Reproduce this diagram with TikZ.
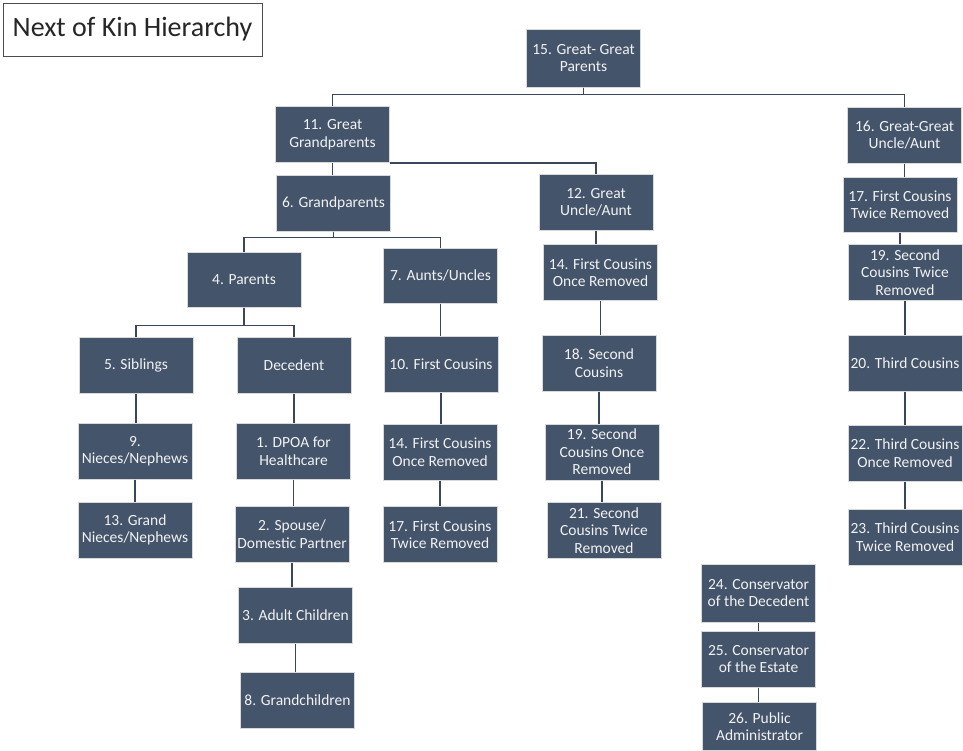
\documentclass[tikz,border=0pt]{standalone}
\usepackage{fontspec}
\setmainfont{Carlito}
\definecolor{kinfill}{HTML}{44546A}
\definecolor{kinline}{HTML}{3A475A}
\definecolor{kinedge}{HTML}{D9D9D9}
\begin{document}
\begin{tikzpicture}[x=1pt, y=-1pt,
	kin node/.style={rectangle, draw=kinedge, line width=1pt, fill=kinfill,
		text=white!95!black, minimum width=114pt, minimum height=56pt, inner sep=0.5pt,
		align=center, font=\fontsize{15.5}{17.5}\selectfont},
	link/.style={draw=kinline, line width=1.2pt},
	vlink/.style={to path={(\tikztostart.south) -- (\tikztostart.south |- \tikztotarget.north)}}]
	\useasboundingbox (0,0) rectangle (963,750);
	
	% title
	\node[draw=black!70, line width=0.8pt, fill=white, minimum width=259pt,
		minimum height=53pt, font=\fontsize{28}{32}\selectfont, text=black!85] (title) at (132.5,29.5) {Next of Kin Hierarchy};
	
	% top rows
	\node[kin node, minimum height=58pt] (t15) at (583.5,58) {15. Great- Great\\Parents};
	\node[kin node] (t11) at (332.5,134.5) {11. Great\\Grandparents};
	\node[kin node] (t16) at (904.5,135) {16. Great-Great\\Uncle/Aunt};
	\node[kin node] (t12) at (596,202.5) {12. Great\\Uncle/Aunt};
	\node[kin node] (t6) at (333.5,203) {6. Grandparents};
	\node[kin node, minimum height=55pt] (t4) at (244,279.5) {4. Parents};
	\node[kin node, minimum height=55pt] (t7) at (440.5,275.5) {7. Aunts/Uncles};
	
	% decedent branch
	\node[kin node] (t5) at (136,365.5) {5. Siblings};
	\node[kin node] (dec) at (294,365.5) {Decedent};
	\node[kin node] (t9) at (135,451) {9.\\Nieces/Nephews};
	\node[kin node] (t13) at (135,530) {13. Grand\\Nieces/Nephews};
	\node[kin node] (t1) at (293.5,451) {1. DPOA for\\Healthcare};
	\node[kin node] (t2) at (292,534) {2. Spouse/\\Domestic Partner};
	\node[kin node] (t3) at (295.5,615.5) {3. Adult Children};
	\node[kin node] (t8) at (297.5,700.5) {8. Grandchildren};
	
	% cousins
	\node[kin node] (t10) at (441,364) {10. First Cousins};
	\node[kin node] (t14a) at (440,452) {14. First Cousins\\Once Removed};
	\node[kin node] (t17a) at (440,534.5) {17. First Cousins\\Twice Removed};
	\node[kin node] (t14b) at (600.5,272.5) {14. First Cousins\\Once Removed};
	\node[kin node] (t18) at (599,363) {18. Second\\Cousins};
	\node[kin node] (t19b) at (602,452) {19. Second\\Cousins Once\\Removed};
	\node[kin node] (t21) at (604,530.5) {21. Second\\Cousins Twice\\Removed};
	\node[kin node, minimum height=55pt] (t17b) at (900,204.5) {17. First Cousins\\Twice Removed};
	\node[kin node] (t19a) at (905,272.5) {19. Second\\Cousins Twice\\Removed};
	\node[kin node] (t20) at (905,363) {20. Third Cousins};
	\node[kin node] (t22) at (905,453) {22. Third Cousins\\Once Removed};
	\node[kin node] (t23) at (905,537) {23. Third Cousins\\Twice Removed};
	
	% conservators
	\node[kin node, minimum height=58pt] (t24) at (758.5,593) {24. Conservator\\of the Decedent};
	\node[kin node] (t25) at (758.5,659) {25. Conservator\\of the Estate};
	\node[kin node, minimum height=48pt, anchor=north] (t26) at (759.5,702) {26. Public\\Administrator};
	
	% elbow connectors
	\draw[link] (t15.south) -- ++(0,7) -| (t11.north);
	\draw[link] (t15.south) -- ++(0,7) -| (t16.north);
	\draw[link] (t11.south east) -| (t12.north);
	\draw[link] (t6.south) -- ++(0,6) -| (t4.north);
	\draw[link] (t6.south) -- ++(0,6) -| (t7.north);
	\draw[link] (t4.south) -- ++(0,18) -| (t5.north);
	\draw[link] (t4.south) -- ++(0,18) -| (dec.north);
	
	% straight connectors
	\path[every edge/.style={link, vlink}]
	(t11) edge (t6)
	(t5) edge (t9)
	(t9) edge (t13)
	(dec) edge (t1)
	(t1) edge (t2)
	(t2) edge (t3)
	(t3) edge (t8)
	(t7) edge (t10)
	(t10) edge (t14a)
	(t14a) edge (t17a)
	(t12) edge (t14b)
	(t14b) edge (t18)
	(t18) edge (t19b)
	(t19b) edge (t21)
	(t16) edge (t17b)
	(t17b) edge (t19a)
	(t19a) edge (t20)
	(t20) edge (t22)
	(t22) edge (t23)
	(t24) edge (t25)
	(t25) edge (t26);
\end{tikzpicture}
\end{document}
